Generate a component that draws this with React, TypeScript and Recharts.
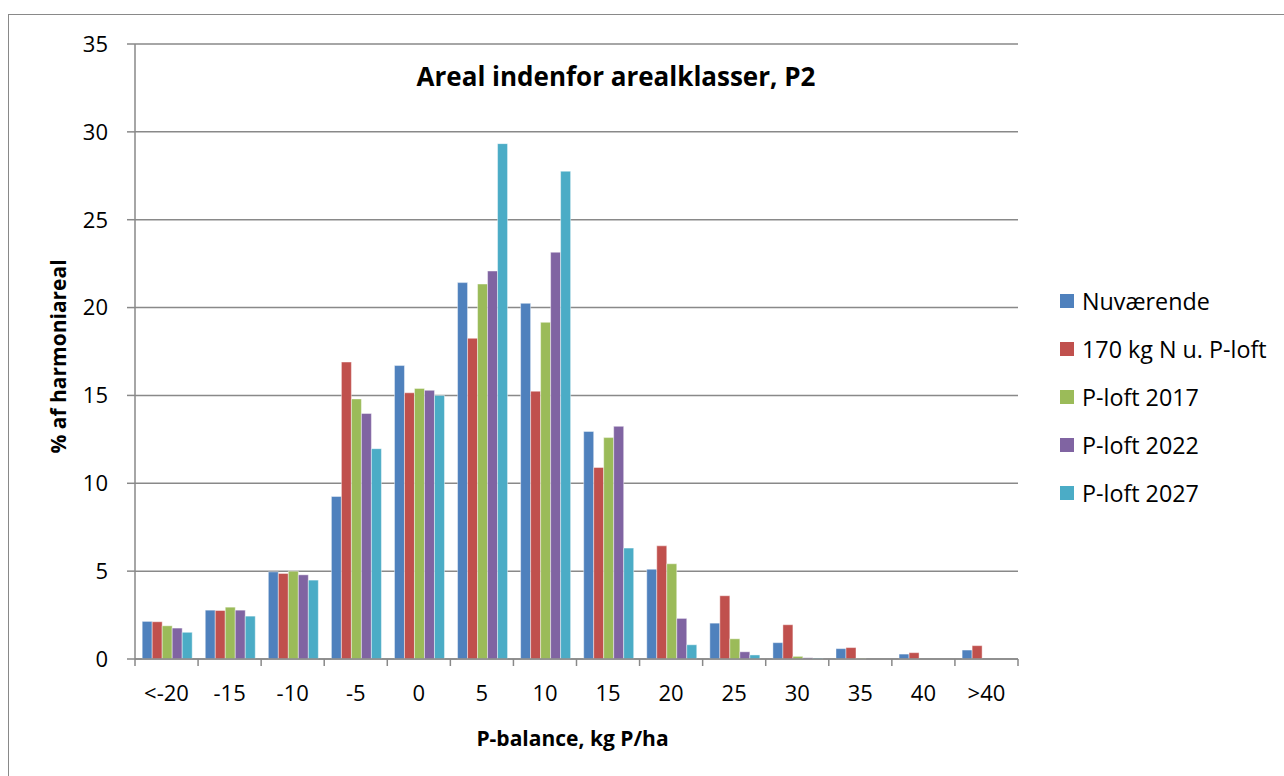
import { BarChart, Bar, XAxis, YAxis, CartesianGrid, Label } from 'recharts';

const categories = ['<-20', '-15', '-10', '-5', '0', '5', '10', '15', '20', '25', '30', '35', '40', '>40'];
const nuvaerende = [2.14, 2.78, 4.96, 9.25, 16.7, 21.42, 20.24, 12.95, 5.11, 2.04, 0.93, 0.59, 0.28, 0.51];
const kg170 = [2.12, 2.76, 4.87, 16.9, 15.15, 18.25, 15.24, 10.9, 6.44, 3.6, 1.95, 0.65, 0.36, 0.76];
const ploft2017 = [1.89, 2.95, 5.0, 14.8, 15.4, 21.34, 19.16, 12.6, 5.42, 1.15, 0.15, 0.04, 0, 0];
const ploft2022 = [1.76, 2.78, 4.79, 13.97, 15.29, 22.08, 23.15, 13.24, 2.31, 0.41, 0.07, 0, 0, 0];
const ploft2027 = [1.52, 2.44, 4.49, 11.97, 15.0, 29.33, 27.76, 6.31, 0.81, 0.23, 0.05, 0, 0, 0];
const seriesNames = ['Nuværende', '170 kg N u. P-loft', 'P-loft 2017', 'P-loft 2022', 'P-loft 2027'];
const seriesColors = ['#4F81BD', '#C0504D', '#9BBB59', '#8064A2', '#4BACC6'];
const yTicks = [0, 5, 10, 15, 20, 25, 30, 35];

const seriesValues = [nuvaerende, kg170, ploft2017, ploft2022, ploft2027];
const data = categories.map((cat, i) => {
  const row: Record<string, string | number> = { cat };
  seriesValues.forEach((vals, s) => { row['s' + s] = vals[i]; });
  return row;
});

const W = 1284;
const H = 776;
const margin = { top: 44, right: 266, bottom: 0, left: 0 };
const yAxisWidth = 135;
const xAxisHeight = 117;
const plotBottom = H - margin.bottom - xAxisHeight;
const band = (W - margin.left - margin.right - yAxisWidth) / categories.length;
const gray = '#898989';
const font = '"Open Sans", sans-serif';

function XTick(props: any) {
  const { x, y, payload, index } = props;
  const left = x - band / 2;
  return (
    <g>
      <line x1={left} x2={left} y1={plotBottom} y2={plotBottom + 7} stroke={gray} strokeWidth={1.5} />
      {index === categories.length - 1 && (
        <line x1={x + band / 2} x2={x + band / 2} y1={plotBottom} y2={plotBottom + 7} stroke={gray} strokeWidth={1.5} />
      )}
      <text x={x} y={y} dy="0.71em" textAnchor="middle" fill="#000" fontSize={22} fontFamily={font}>
        {payload.value}
      </text>
    </g>
  );
}

function YTitle(props: any) {
  const vb = props.viewBox;
  const cx = 58;
  const cy = vb.y + vb.height / 2 + 5;
  return (
    <text x={cx} y={cy} transform={`rotate(-90 ${cx} ${cy})`} textAnchor="middle" dominantBaseline="central"
      fontSize={21} fontWeight="bold" fontFamily={font} fill="#000">
      % af harmoniareal
    </text>
  );
}

function XTitle(props: any) {
  const vb = props.viewBox;
  return (
    <text x={vb.x + vb.width / 2 - 4} y={vb.y + 87} textAnchor="middle" fontSize={21} fontWeight="bold" fontFamily={font} fill="#000">
      P-balance, kg P/ha
    </text>
  );
}

export default function App() {
  return (
    <div style={{ position: 'absolute', left: 0, top: 0, width: W, height: H, overflow: 'hidden', background: '#fff', fontFamily: font }}>
      <div style={{ position: 'absolute', left: 8, top: 14, width: 1320, height: 820, border: `1.5px solid ${gray}` }} />
      <div style={{ position: 'absolute', left: 0, top: 60, width: 1232, textAlign: 'center', fontSize: 26, lineHeight: '32px', fontWeight: 'bold', color: '#000' }}>
        Areal indenfor arealklasser, P2
      </div>
      <BarChart width={W} height={H} data={data} margin={margin} barCategoryGap="11.4%" barGap={0}
        style={{ position: 'absolute', left: 0, top: 0 }}>
        <CartesianGrid vertical={false} stroke={gray} strokeWidth={1.5} />
        <XAxis dataKey="cat" height={xAxisHeight} interval={0} tickSize={7} tickMargin={19} tickLine={false}
          axisLine={{ stroke: gray, strokeWidth: 1.5 }} tick={<XTick />}>
          <Label content={<XTitle />} />
        </XAxis>
        <YAxis width={yAxisWidth} domain={[0, 35]} ticks={yTicks} interval={0} tickSize={8} tickMargin={19}
          axisLine={{ stroke: gray, strokeWidth: 1.5 }} tickLine={{ stroke: gray, strokeWidth: 1.5 }}
          tick={{ fill: '#000', fontSize: 22, fontFamily: font }}>
          <Label content={<YTitle />} />
        </YAxis>
        {seriesNames.map((name, s) => (
          <Bar key={name} dataKey={'s' + s} name={name} fill={seriesColors[s]} stroke="#fff" strokeOpacity={0.55}
            strokeWidth={0.8} isAnimationActive={false} />
        ))}
      </BarChart>
      <div style={{ position: 'absolute', left: 1060, top: 277 }}>
        {seriesNames.map((name, s) => (
          <div key={name} style={{ display: 'flex', alignItems: 'center', height: 48 }}>
            <span style={{ width: 14, height: 14, background: seriesColors[s], marginRight: 8 }} />
            <span style={{ fontSize: 23.3, color: '#000', whiteSpace: 'nowrap' }}>{name}</span>
          </div>
        ))}
      </div>
    </div>
  );
}
